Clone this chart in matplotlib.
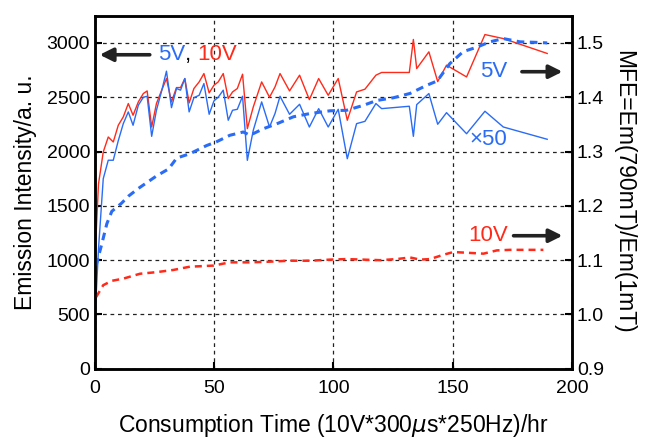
import matplotlib
matplotlib.use("Agg")
import matplotlib.pyplot as plt

plt.rcParams['font.family'] = ['Liberation Sans', 'DejaVu Sans']
plt.rcParams['mathtext.fontset'] = 'dejavusans'

# emission intensity (left axis), shared time points
t = [0, 1.5, 3.5, 5.6, 7.7, 9.8, 11.9, 14, 16, 18.2, 20.3, 21.9, 23.8, 25.8, 28, 30,
     32.1, 34.2, 35.9, 37.7, 39.5, 41.5, 43.7, 45.7, 47.9, 49.9, 51.7, 53.8, 55.9,
     57.7, 59.7, 61.9, 63.9, 66.4, 69.9, 73.2, 75.5, 77.6, 81.6, 85.8, 89.9, 93.8,
     97.8, 102, 105.8, 109.7, 113.2, 117.8, 120.2, 131.8, 133.5, 134.9, 140, 143.7,
     147.4, 155.8, 163.5, 171.2, 189.6]
em_5v = [450, 1100, 1750, 1920, 1920, 2100, 2257, 2365, 2242, 2426, 2500, 2509, 2140,
         2380, 2560, 2740, 2404, 2580, 2565, 2672, 2365, 2496, 2518, 2626, 2343, 2466,
         2500, 2565, 2288, 2380, 2389, 2509, 1919, 2196, 2457, 2226, 2350, 2509, 2343,
         2435, 2226, 2395, 2226, 2389, 1934, 2257, 2278, 2442, 2395, 2417, 2140, 2432,
         2534, 2251, 2358, 2164, 2371, 2226, 2113]
em_10v = [1000, 1700, 1996, 2134, 2088, 2242, 2319, 2442, 2334, 2457, 2534, 2558, 2226,
          2442, 2565, 2672, 2457, 2589, 2589, 2672, 2447, 2580, 2641, 2718, 2540, 2610,
          2641, 2718, 2488, 2549, 2580, 2712, 2211, 2411, 2641, 2500, 2595, 2718, 2558,
          2703, 2478, 2672, 2518, 2672, 2288, 2549, 2574, 2703, 2728, 2728, 3032, 2764,
          2918, 2644, 2795, 2687, 3077, 3040, 2903]

# MFE (right axis)
t_mfe5 = [0.5, 2.9, 5, 7.1, 11.2, 14.1, 18.2, 25.8, 30.9, 34.3, 39.8, 46.8, 51, 56.6,
          62.2, 65, 70.6, 76.2, 83.2, 90.2, 98.5, 105.5, 112.5, 118.1, 125.1, 132.1,
          139.1, 143.5, 148.8, 154.4, 160, 165.6, 171.2, 178.2, 185.2, 189.6]
mfe_5v = [1.09, 1.13, 1.167, 1.19, 1.205, 1.218, 1.232, 1.255, 1.268, 1.288, 1.296,
          1.311, 1.318, 1.330, 1.336, 1.330, 1.342, 1.351, 1.364, 1.370, 1.375, 1.376,
          1.385, 1.394, 1.399, 1.407, 1.422, 1.430, 1.462, 1.484, 1.492, 1.502, 1.508,
          1.502, 1.501, 1.500]
t_mfe10 = [0.5, 3.5, 7.1, 11.9, 18.9, 25.9, 32.9, 39.8, 49.6, 56.6, 65, 72, 81.8, 90.2,
           98.5, 105.5, 112.5, 119.5, 126.5, 132.1, 136.3, 140.5, 146.1, 150.3, 158.7,
           162.9, 168.5, 174, 182.4, 188]
mfe_10v = [1.032, 1.054, 1.062, 1.066, 1.075, 1.078, 1.082, 1.088, 1.090, 1.096, 1.096,
           1.097, 1.099, 1.099, 1.101, 1.102, 1.101, 1.100, 1.102, 1.105, 1.101, 1.102,
           1.110, 1.115, 1.113, 1.112, 1.118, 1.119, 1.119, 1.119]

blue = '#2a6cf5'
red = '#ff2a1a'

fig = plt.figure(figsize=(6.59, 4.38), dpi=100)
ax = fig.add_axes([0.144, 0.158, 0.724, 0.806])
ax2 = ax.twinx()

ax.plot(t, em_10v, color=red, lw=1.0)
ax.plot(t, em_5v, color=blue, lw=1.0)
ax2.plot(t_mfe5, mfe_5v, color=blue, lw=2.2, linestyle=(0, (2.5, 1.8)))
ax2.plot(t_mfe10, mfe_10v, color=red, lw=1.8, linestyle=(0, (2.8, 2.0)))

ax.set_xlim(0, 200)
ax.set_ylim(0, 3250)
ax2.set_ylim(0.9, 1.55)
ax.set_xticks([0, 50, 100, 150, 200])
ax.set_yticks([0, 500, 1000, 1500, 2000, 2500, 3000])
ax2.set_yticks([0.9, 1.0, 1.1, 1.2, 1.3, 1.4, 1.5])

ax.grid(True, color='#222222', linestyle=(0, (3, 3)), lw=0.9)
ax.set_axisbelow(True)

for a in (ax, ax2):
    a.tick_params(direction='in', length=5, width=1.5, labelsize=14)
    for s in a.spines.values():
        s.set_linewidth(1.8)
ax.tick_params(axis='x', pad=8)

ax.set_xlabel('Consumption Time (10V*300$\\mu$s*250Hz)/hr', fontsize=16.5, labelpad=11)
ax.set_ylabel('Emission Intensity/a. u.', fontsize=16.5, labelpad=7)
ax2.set_ylabel('MFE=Em(790mT)/Em(1mT)', fontsize=16.5, rotation=270, labelpad=22)

arrow = dict(arrowstyle='-|>', color='#222222', lw=2.6, mutation_scale=20,
             shrinkA=0, shrinkB=0)

# top-left "5V, 10V" with left arrow
ax.annotate('', xy=(2, 2891), xytext=(23, 2891), arrowprops=arrow)
t1 = ax.text(26.5, 2891, '5V', color=blue, fontsize=16, va='center')
t2 = ax.annotate(', ', xy=(1, 0), xycoords=t1, va='bottom', fontsize=16, color='black')
ax.annotate('10V', xy=(1, 0), xycoords=t2, va='bottom', fontsize=16, color=red)

# right side labels
ax.text(161.5, 2735, '5V', color=blue, fontsize=16, va='center')
ax.annotate('', xy=(196, 2735), xytext=(179, 2735), arrowprops=arrow)
ax.text(157, 2109, '\u00d750', color=blue, fontsize=16, va='center')
ax.text(156.5, 1225, '10V', color=red, fontsize=16, va='center')
ax.annotate('', xy=(196, 1225), xytext=(175.5, 1225), arrowprops=arrow)

fig.savefig('out.png', dpi=100)
